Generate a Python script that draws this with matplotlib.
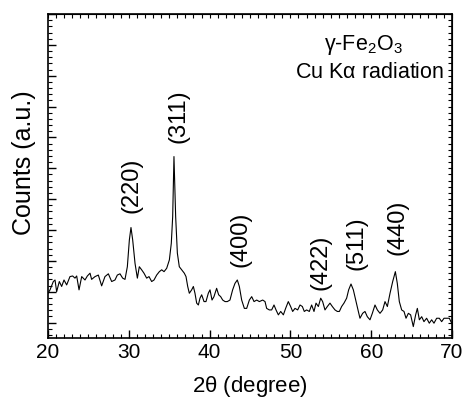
import numpy as np
import matplotlib.pyplot as plt
from matplotlib.ticker import MultipleLocator, NullFormatter

#font settings (Arial-like)
plt.rcParams['font.family'] = ['Liberation Sans', 'DejaVu Sans']
plt.rcParams['mathtext.fontset'] = 'custom'
plt.rcParams['mathtext.rm'] = 'Liberation Sans'
plt.rcParams['mathtext.default'] = 'regular'

#diffraction pattern (2theta in degree, counts in a.u.)
two_theta = [20.00, 20.25, 20.66, 20.87, 21.07, 21.40, 21.69, 21.98, 22.31, 22.72,
             23.05, 23.34, 23.55, 23.84, 24.17, 24.58, 24.87, 25.20, 25.40, 25.82,
             26.23, 26.64, 27.05, 27.47, 27.88, 28.29, 28.58, 28.91, 29.24, 29.53,
             29.82, 30.07, 30.27, 30.48, 30.77, 31.06, 31.30, 31.59, 31.88, 32.21,
             32.50, 32.83, 33.12, 33.45, 33.78, 34.07, 34.36, 34.69, 35.02, 35.26,
             35.43, 35.59, 35.80, 36.01, 36.25, 36.54, 36.87, 37.08, 37.29, 37.49,
             37.78, 37.99, 38.19, 38.40, 38.61, 38.81, 39.02, 39.31, 39.55, 39.84,
             40.05, 40.30, 40.54, 40.87, 41.12, 41.37, 41.62, 41.91, 42.19, 42.52,
             42.85, 43.14, 43.43, 43.68, 43.97, 44.30, 44.59, 44.92, 45.21, 45.50,
             45.83, 46.16, 46.57, 46.86, 47.06, 47.39, 47.68, 47.97, 48.22, 48.51,
             48.80, 49.13, 49.41, 49.74, 50.03, 50.28, 50.57, 50.90, 51.19, 51.48,
             51.72, 52.01, 52.34, 52.63, 52.92, 53.17, 53.46, 53.75, 53.99, 54.28,
             54.57, 54.90, 55.19, 55.52, 55.81, 56.06, 56.34, 56.63, 56.96, 57.21,
             57.50, 57.79, 58.12, 58.41, 58.61, 58.94, 59.23, 59.52, 59.85, 60.14,
             60.47, 60.76, 61.09, 61.42, 61.71, 62.00, 62.33, 62.66, 62.99, 63.23,
             63.48, 63.77, 64.06, 64.31, 64.60, 64.88, 65.21, 65.50, 65.71, 65.96,
             66.25, 66.53, 66.86, 67.19, 67.48, 67.77, 68.10, 68.43, 68.72, 69.01,
             69.34, 69.67, 69.96]
counts = [0.95, 1.06, 1.33, 1.38, 1.00, 1.33, 1.17, 1.38, 1.22, 1.49,
          1.51, 1.44, 1.51, 1.06, 1.49, 1.38, 1.51, 1.60, 1.40, 1.49,
          1.54, 1.19, 1.49, 1.58, 1.33, 1.38, 1.54, 1.58, 1.44, 1.40,
          1.81, 2.68, 3.08, 2.68, 1.92, 1.44, 1.81, 1.71, 1.60, 1.44,
          1.49, 1.33, 1.38, 1.54, 1.65, 1.71, 1.65, 1.76, 2.03, 2.57,
          3.43, 5.38, 3.43, 2.25, 1.81, 1.71, 1.60, 1.49, 1.17, 0.95,
          1.06, 1.17, 0.95, 0.63, 0.57, 0.79, 0.90, 0.68, 0.68, 0.95,
          1.06, 0.73, 0.84, 1.11, 0.90, 0.84, 0.73, 0.68, 0.68, 0.73,
          1.06, 1.27, 1.38, 1.17, 0.73, 0.46, 0.46, 0.73, 0.84, 0.68,
          0.73, 0.68, 0.73, 0.68, 0.46, 0.41, 0.41, 0.57, 0.41, 0.25,
          0.36, 0.25, 0.46, 0.68, 0.52, 0.36, 0.46, 0.41, 0.57, 0.52,
          0.36, 0.41, 0.36, 0.57, 0.36, 0.63, 0.52, 0.79, 0.68, 0.41,
          0.52, 0.63, 0.52, 0.41, 0.36, 0.36, 0.52, 0.63, 0.79, 1.06,
          1.25, 1.06, 0.68, 0.36, 0.14, 0.30, 0.36, 0.19, 0.09, 0.30,
          0.57, 0.41, 0.30, 0.41, 0.68, 0.52, 0.95, 1.33, 1.65, 1.27,
          0.68, 0.41, 0.36, 0.14, 0.30, 0.25, -0.13, 0.25, 0.46, 0.09,
          0.19, 0.03, 0.14, -0.02, 0.09, -0.02, 0.14, 0.14, 0.03, 0.14,
          0.14, 0.14, -0.02]

#miller indices of the reflections
peak_labels = ['(220)', '(311)', '(400)', '(422)', '(511)', '(440)']
#where the labels sit (2theta, bottom of text)
label_x = [30.3, 36.1, 43.8, 53.7, 58.2, 63.2]
label_y = [3.55, 5.82, 1.80, 1.06, 1.70, 2.19]

fig = plt.figure(figsize=(4.65, 4.0), dpi=100)
ax = fig.add_axes([48/465, 62/400, 404/465, 324/400])

ax.plot(two_theta, counts, color='black', lw=0.8)

for lab, lx, ly in zip(peak_labels, label_x, label_y):
    ax.text(lx, ly, lab, rotation=90, ha='center', va='bottom', fontsize=17)

ax.text(0.78, 0.905, r'$\gamma$-Fe$_2$O$_3$', transform=ax.transAxes,
        ha='center', va='center', fontsize=15.5)
ax.text(0.795, 0.82, r'Cu K$\alpha$ radiation', transform=ax.transAxes,
        ha='center', va='center', fontsize=15.5)

#axes limits and ticks
ax.set_xlim(20, 70)
ax.set_ylim(-0.5, 10)
ax.xaxis.set_major_locator(MultipleLocator(10))
ax.xaxis.set_minor_locator(MultipleLocator(1))
ax.yaxis.set_major_locator(MultipleLocator(1))
ax.yaxis.set_minor_locator(MultipleLocator(0.2))
ax.yaxis.set_major_formatter(NullFormatter())
ax.tick_params(which='major', direction='in', length=6, width=1, labelsize=15)
ax.tick_params(which='minor', direction='in', length=3, width=0.8)
for s in ax.spines.values():
    s.set_linewidth(1.2)

#small ticks on the top and right side
top = ax.secondary_xaxis('top')
top.xaxis.set_major_locator(MultipleLocator(1))
top.tick_params(direction='in', length=3, width=0.8, labeltop=False)
right = ax.secondary_yaxis('right')
right.yaxis.set_major_locator(MultipleLocator(0.2))
right.tick_params(direction='in', length=3, width=0.8, labelright=False)

ax.set_xlabel(r'2$\theta$ (degree)', fontsize=16, labelpad=9)
ax.set_ylabel('Counts (a.u.)', fontsize=18)
ax.yaxis.set_label_coords(-0.03, 0.54)

plt.savefig('out.png', dpi=100)
